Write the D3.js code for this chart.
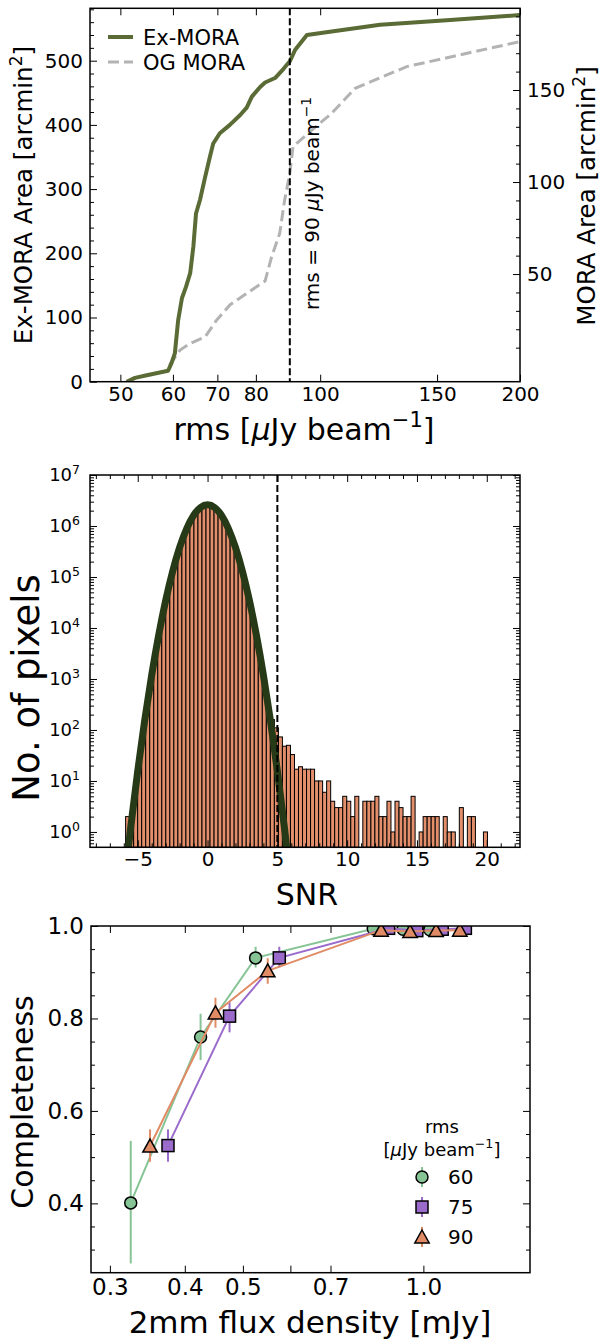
<!DOCTYPE html>
<html>
<head>
<meta charset="utf-8">
<script src="https://cdn.jsdelivr.net/npm/d3@7"></script>
<style>
  body { margin: 0; background: #fff; }
  text { font-family: "DejaVu Sans", sans-serif; }
</style>
</head>
<body>
<div id="chart"></div>
<script>
/* ---- data: area vs rms ---- */
var exRms  = [51.1, 52.6, 54.8, 59.0, 59.7, 60.4, 61.1, 61.9, 62.8, 63.7, 64.4, 65.0, 65.9, 67.1, 68.2, 69.0, 70.6, 73.1, 75.7, 77.5, 78.9, 81.2, 82.6, 85.5, 88.0, 90.0, 91.7, 95.5, 103.4, 123.1, 155.1, 200];
var exArea = [0, 6, 10, 17, 29, 44, 96, 130, 148, 169, 210, 262, 283, 319, 350, 371, 387, 400, 415, 427, 444, 459, 466, 473, 487, 499, 517, 540, 545, 556, 563, 571];
var ogRms  = [59.3, 61.5, 63.7, 67.1, 69.8, 73.1, 77.5, 82.6, 84.5, 86.9, 88.4, 90.0, 91.0, 94.6, 98.5, 104.0, 112.9, 135.0, 200];
var ogArea = [0.5, 8.7, 12.3, 15.9, 24.9, 33.2, 39.5, 46.2, 59.4, 72.1, 90.2, 104.7, 119.2, 124.6, 130.1, 137.3, 150.9, 162.7, 176.3];
var rmsTicks = [50, 60, 70, 80, 100, 150, 200];
var rmsCut = 90;

/* ---- data: pixel histogram ---- */
var snrStart = -5.87, snrBin = 0.288;
var pixCounts = [2, 1, 7, 29, 108, 368, 1160, 3370, 9040, 22400, 51300, 108000, 211000, 380000, 632000,
  971000, 1380000, 1800000, 2180000, 2440000, 2510000, 2390000, 2100000, 1710000, 1280000, 883000,
  565000, 333000, 182000, 91400, 42500, 18200, 7210, 2640, 891,
  290, 160, 110, 73, 48, 50, 33, 17, 19, 17, 17, 17, 10, 10, 6, 10, 4, 3, 3, 5,
  4, 2, 5, 0, 4, 4, 4, 5, 2, 2, 4, 1, 4, 3, 2, 2, 5, 0, 1, 2, 2, 2, 2, 0, 2, 1, 1, 0, 3, 0, 2, 2, 0, 0, 1];
var fitSnr = [-6, -5.5, -5, -4.5, -4, -3.5, -3, -2.5, -2, -1.5, -1, -0.5, 0, 0.5, 1, 1.5, 2, 2.5, 3, 3.5, 4, 4.5, 5, 5.5, 6];
var fitPix = [0.08, 1.26, 15.8, 155, 1190, 7210, 34400, 129000, 380000, 881000, 1610000, 2310000, 2600000,
  2310000, 1610000, 881000, 380000, 129000, 34400, 7210, 1190, 155, 15.8, 1.26, 0.08];
var snrCut = 5;
var snrTicks = [-5, 0, 5, 10, 15, 20];

/* ---- data: completeness ---- */
var rmsLevels = ["60", "75", "90"];
var flux60 = [0.325, 0.425, 0.525, 0.825, 0.925, 1.025];
var comp60 = [0.401, 0.760, 0.931, 0.994, 0.993, 0.992];
var lo60   = [0.270, 0.710, 0.910, 0.988, 0.987, 0.986];
var hi60   = [0.535, 0.810, 0.955, 1.0, 0.999, 0.998];
var flux75 = [0.375, 0.475, 0.575, 0.875, 0.975, 1.075, 1.175];
var comp75 = [0.525, 0.805, 0.931, 0.995, 0.990, 0.993, 0.995];
var lo75   = [0.490, 0.770, 0.910, 0.989, 0.984, 0.987, 0.989];
var hi75   = [0.560, 0.835, 0.955, 1.0, 0.996, 0.999, 1.0];
var flux90 = [0.350, 0.450, 0.550, 0.850, 0.950, 1.050, 1.150];
var comp90 = [0.524, 0.812, 0.903, 0.991, 0.988, 0.990, 0.991];
var lo90   = [0.490, 0.780, 0.875, 0.985, 0.982, 0.984, 0.985];
var hi90   = [0.560, 0.845, 0.930, 0.997, 0.994, 0.996, 0.997];
var fluxTicks = [0.3, 0.4, 0.5, 0.6, 0.7, 1.0];
var fluxLabels = ["0.3", "0.4", "0.5", "", "0.7", "1.0"];

var W = 600, H = 1341;
var svg = d3.select("#chart").append("svg").attr("width", W).attr("height", H);

/* writes text made of pieces, some italic or superscript */
function rich(t, parts, size) {
  var up = false;
  parts.forEach(function(p) {
    var ts = t.append("tspan").text(p.t);
    if (p.it) ts.attr("font-style", "italic");
    if (p.sup) { ts.attr("font-size", size * 0.7).attr("dy", -size * 0.42); up = true; }
    else if (up) { ts.attr("dy", size * 0.42); up = false; }
  });
  return t;
}
var uJy = [{t: "["}, {t: "\u03bc", it: true}, {t: "Jy beam"}, {t: "\u22121", sup: true}, {t: "]"}];

/* inward ticks on one side */
function ticks(g, axis, vals, len, fmt, size, pad) {
  var a = axis.tickValues(vals).tickSize(-len).tickPadding(pad || 5)
    .tickFormat(fmt || function() { return ""; });
  g.call(a);
  g.select(".domain").remove();
  g.selectAll(".tick line").attr("stroke", "#000").attr("stroke-width", 1);
  g.selectAll(".tick text").attr("font-size", size || 20).attr("fill", "#000")
    .attr("font-family", "DejaVu Sans");
  return g;
}

function frame(p) {
  svg.append("rect").attr("x", p.left).attr("y", p.top)
    .attr("width", p.right - p.left).attr("height", p.bottom - p.top)
    .attr("fill", "none").attr("stroke", "#000").attr("stroke-width", 1.5);
}

function clip(id, p) {
  svg.append("clipPath").attr("id", id).append("rect")
    .attr("x", p.left).attr("y", p.top).attr("width", p.right - p.left).attr("height", p.bottom - p.top);
}

/* =========== top panel =========== */
var t = {left: 90, right: 520, top: 8.3, bottom: 381.7};
var xRms = d3.scaleLog().domain([45, 200]).range([t.left, t.right]);
var yEx = d3.scaleLinear().domain([0, 581.6]).range([t.bottom, t.top]);
var yOg = d3.scaleLinear().domain([-8.5, 194.4]).range([t.bottom, t.top]);
clip("clipTop", t);

var gt = svg.append("g").attr("clip-path", "url(#clipTop)");
gt.append("path")
  .datum(d3.zip(ogRms, ogArea))
  .attr("fill", "none").attr("stroke", "#b3b3b3").attr("stroke-width", 3).attr("stroke-dasharray", "11,5")
  .attr("d", d3.line().x(function(d) { return xRms(d[0]); }).y(function(d) { return yOg(d[1]); }));
gt.append("path")
  .datum(d3.zip(exRms, exArea))
  .attr("fill", "none").attr("stroke", "#5a6b35").attr("stroke-width", 4).attr("stroke-linejoin", "round")
  .attr("d", d3.line().x(function(d) { return xRms(d[0]); }).y(function(d) { return yEx(d[1]); }));
gt.append("line")
  .attr("x1", xRms(rmsCut)).attr("x2", xRms(rmsCut)).attr("y1", t.top).attr("y2", t.bottom)
  .attr("stroke", "#000").attr("stroke-width", 2).attr("stroke-dasharray", "7,3");

ticks(svg.append("g").attr("transform", "translate(0," + t.bottom + ")"),
  d3.axisBottom(xRms), rmsTicks, 7, d3.format("d"), 20, 5);
ticks(svg.append("g").attr("transform", "translate(0," + t.top + ")"),
  d3.axisTop(xRms), rmsTicks, 7);
ticks(svg.append("g").attr("transform", "translate(" + t.left + ",0)"),
  d3.axisLeft(yEx), d3.range(0, 501, 100), 7, d3.format("d"), 20, 7);
ticks(svg.append("g").attr("transform", "translate(" + t.left + ",0)"),
  d3.axisLeft(yEx), d3.range(20, 581, 20).filter(function(v) { return v % 100; }), 4);
ticks(svg.append("g").attr("transform", "translate(" + t.right + ",0)"),
  d3.axisRight(yOg), [50, 100, 150], 7, d3.format("d"), 20, 7);
ticks(svg.append("g").attr("transform", "translate(" + t.right + ",0)"),
  d3.axisRight(yOg), d3.range(0, 191, 10).filter(function(v) { return v % 50; }), 4);
frame(t);

rich(svg.append("text").attr("x", 304).attr("y", 440).attr("text-anchor", "middle").attr("font-size", 30),
  [{t: "rms "}].concat(uJy), 30);
rich(svg.append("text").attr("transform", "translate(32,195) rotate(-90)").attr("text-anchor", "middle").attr("font-size", 24.5),
  [{t: "Ex-MORA Area [arcmin"}, {t: "2", sup: true}, {t: "]"}], 24.5);
rich(svg.append("text").attr("transform", "translate(595,196) rotate(-90)").attr("text-anchor", "middle").attr("font-size", 24.5),
  [{t: "MORA Area [arcmin"}, {t: "2", sup: true}, {t: "]"}], 24.5);
rich(svg.append("text").attr("transform", "translate(319,310) rotate(-90)").attr("font-size", 20),
  [{t: "rms = 90 "}, {t: "\u03bc", it: true}, {t: "Jy beam"}, {t: "\u22121", sup: true}], 20);

/* legend */
svg.append("line").attr("x1", 108).attr("x2", 133).attr("y1", 37).attr("y2", 37)
  .attr("stroke", "#5a6b35").attr("stroke-width", 4);
svg.append("line").attr("x1", 108).attr("x2", 133).attr("y1", 62).attr("y2", 62)
  .attr("stroke", "#b3b3b3").attr("stroke-width", 3).attr("stroke-dasharray", "11,5");
svg.append("text").attr("x", 143).attr("y", 45).attr("font-size", 21).text("Ex-MORA");
svg.append("text").attr("x", 143).attr("y", 70).attr("font-size", 21).text("OG MORA");

/* =========== middle panel =========== */
var m = {left: 90, right: 520, top: 475, bottom: 847.3};
var xSnr = d3.scaleLinear().domain([-8.42, 22.38]).range([m.left, m.right]);
var yPix = d3.scaleLog().domain([0.5, 1e7]).range([m.bottom, m.top]);
clip("clipMid", m);

var gm = svg.append("g").attr("clip-path", "url(#clipMid)");
gm.selectAll("rect.bar")
  .data(pixCounts.map(function(c, i) { return {i: i, c: c}; }).filter(function(d) { return d.c > 0; }))
  .enter().append("rect")
    .attr("class", "bar")
    .attr("x", function(d) { return xSnr(snrStart + d.i * snrBin); })
    .attr("width", function(d) { return xSnr(snrStart + (d.i + 1) * snrBin) - xSnr(snrStart + d.i * snrBin); })
    .attr("y", function(d) { return yPix(d.c); })
    .attr("height", function(d) { return m.bottom - yPix(d.c); })
    .attr("fill", "#e38f6b").attr("stroke", "#000").attr("stroke-width", 1);
gm.append("path")
  .datum(d3.zip(fitSnr, fitPix))
  .attr("fill", "none").attr("stroke", "#263a17").attr("stroke-width", 7)
  .attr("d", d3.line().curve(d3.curveNatural)
    .x(function(d) { return xSnr(d[0]); }).y(function(d) { return yPix(d[1]); }));
gm.append("line")
  .attr("x1", xSnr(snrCut)).attr("x2", xSnr(snrCut)).attr("y1", m.top).attr("y2", m.bottom)
  .attr("stroke", "#000").attr("stroke-width", 2).attr("stroke-dasharray", "7,3");

var decades = d3.range(0, 8).map(function(e) { return Math.pow(10, e); });
var minorDec = [];
for (var e = -1; e < 7; e++) for (var k = 2; k < 10; k++) {
  var v = k * Math.pow(10, e);
  if (v > 0.5 && v < 1e7) minorDec.push(v);
}
var snrMinor = d3.range(-8, 23).filter(function(v) { return v % 5; });

ticks(svg.append("g").attr("transform", "translate(0," + m.bottom + ")"),
  d3.axisBottom(xSnr), snrTicks, 7, function(d) { return d < 0 ? "\u2212" + (-d) : d; }, 20, 5);
ticks(svg.append("g").attr("transform", "translate(0," + m.bottom + ")"), d3.axisBottom(xSnr), snrMinor, 4);
ticks(svg.append("g").attr("transform", "translate(0," + m.top + ")"), d3.axisTop(xSnr), snrTicks, 7);
ticks(svg.append("g").attr("transform", "translate(0," + m.top + ")"), d3.axisTop(xSnr), snrMinor, 4);
var gy = ticks(svg.append("g").attr("transform", "translate(" + m.left + ",0)"),
  d3.axisLeft(yPix), decades, 7, function() { return "10"; }, 18, 10);
gy.selectAll(".tick text").each(function(d) {
  d3.select(this).append("tspan").attr("font-size", 12.5).attr("dy", -7.5).text(Math.round(Math.log10(d)));
});
ticks(svg.append("g").attr("transform", "translate(" + m.left + ",0)"), d3.axisLeft(yPix), minorDec, 4);
ticks(svg.append("g").attr("transform", "translate(" + m.right + ",0)"), d3.axisRight(yPix), decades, 7);
ticks(svg.append("g").attr("transform", "translate(" + m.right + ",0)"), d3.axisRight(yPix), minorDec, 4);
frame(m);

svg.append("text").attr("x", 307).attr("y", 905).attr("text-anchor", "middle").attr("font-size", 30).text("SNR");
svg.append("text").attr("transform", "translate(39,688) rotate(-90)").attr("text-anchor", "middle")
  .attr("font-size", 37).text("No. of pixels");

/* =========== bottom panel =========== */
var b = {left: 91, right: 530, top: 926, bottom: 1272.7};
var xFlux = d3.scaleLog().domain([0.279, 1.506]).range([b.left, b.right]);
var yComp = d3.scaleLinear().domain([0.25, 1.0]).range([b.bottom, b.top]);
clip("clipBot", b);

var series = [
  {name: rmsLevels[0], x: flux60, y: comp60, lo: lo60, hi: hi60, color: "#86c495", shape: "circle"},
  {name: rmsLevels[1], x: flux75, y: comp75, lo: lo75, hi: hi75, color: "#9b6bcc", shape: "square"},
  {name: rmsLevels[2], x: flux90, y: comp90, lo: lo90, hi: hi90, color: "#e08b65", shape: "triangle"}
];

function marker(g, shape, color) {
  var s;
  if (shape == "circle") s = g.append("circle").attr("r", 6);
  else if (shape == "square") s = g.append("rect").attr("x", -6).attr("y", -6).attr("width", 12).attr("height", 12);
  else s = g.append("path").attr("d", "M0,-7L7.2,6L-7.2,6Z");
  s.attr("fill", color).attr("stroke", "#000").attr("stroke-width", 1.5);
}

var gb = svg.append("g").attr("clip-path", "url(#clipBot)");
series.forEach(function(s) {
  var pts = s.x.map(function(x, i) { return {x: x, y: s.y[i], lo: s.lo[i], hi: s.hi[i]}; });
  gb.append("path").datum(pts)
    .attr("fill", "none").attr("stroke", s.color).attr("stroke-width", 2)
    .attr("d", d3.line().x(function(d) { return xFlux(d.x); }).y(function(d) { return yComp(d.y); }));
  gb.selectAll(null).data(pts).enter().append("line")
    .attr("x1", function(d) { return xFlux(d.x); }).attr("x2", function(d) { return xFlux(d.x); })
    .attr("y1", function(d) { return yComp(d.lo); }).attr("y2", function(d) { return yComp(d.hi); })
    .attr("stroke", s.color).attr("stroke-width", 2);
  pts.forEach(function(d) {
    marker(gb.append("g").attr("transform", "translate(" + xFlux(d.x) + "," + yComp(d.y) + ")"), s.shape, s.color);
  });
});

ticks(svg.append("g").attr("transform", "translate(0," + b.bottom + ")"),
  d3.axisBottom(xFlux), fluxTicks, 7, function(d, i) { return fluxLabels[i]; }, 23, 6);
ticks(svg.append("g").attr("transform", "translate(0," + b.top + ")"), d3.axisTop(xFlux), fluxTicks, 7);
ticks(svg.append("g").attr("transform", "translate(" + b.left + ",0)"),
  d3.axisLeft(yComp), [0.4, 0.6, 0.8, 1.0], 7, d3.format(".1f"), 23, 7);
ticks(svg.append("g").attr("transform", "translate(" + b.left + ",0)"),
  d3.axisLeft(yComp), [0.3, 0.35, 0.45, 0.5, 0.55, 0.65, 0.7, 0.75, 0.85, 0.9, 0.95], 4);
ticks(svg.append("g").attr("transform", "translate(" + b.right + ",0)"), d3.axisRight(yComp), [0.4, 0.6, 0.8, 1.0], 7);
ticks(svg.append("g").attr("transform", "translate(" + b.right + ",0)"),
  d3.axisRight(yComp), [0.3, 0.35, 0.45, 0.5, 0.55, 0.65, 0.7, 0.75, 0.85, 0.9, 0.95], 4);
frame(b);

svg.append("text").attr("x", 310).attr("y", 1333).attr("text-anchor", "middle").attr("font-size", 31)
  .text("2mm flux density [mJy]");
svg.append("text").attr("transform", "translate(33,1102) rotate(-90)").attr("text-anchor", "middle")
  .attr("font-size", 30).text("Completeness");

/* legend */
svg.append("text").attr("x", 442).attr("y", 1133).attr("text-anchor", "middle").attr("font-size", 18).text("rms");
rich(svg.append("text").attr("x", 442).attr("y", 1156).attr("text-anchor", "middle").attr("font-size", 18), uJy, 18);
series.forEach(function(s, i) {
  var cy = 1177 + i * 30;
  svg.append("line").attr("x1", 422).attr("x2", 422).attr("y1", cy - 10).attr("y2", cy + 10)
    .attr("stroke", s.color).attr("stroke-width", 2);
  marker(svg.append("g").attr("transform", "translate(422," + cy + ")"), s.shape, s.color);
  svg.append("text").attr("x", 448).attr("y", cy + 7).attr("font-size", 20).text(s.name);
});
</script>
</body>
</html>
